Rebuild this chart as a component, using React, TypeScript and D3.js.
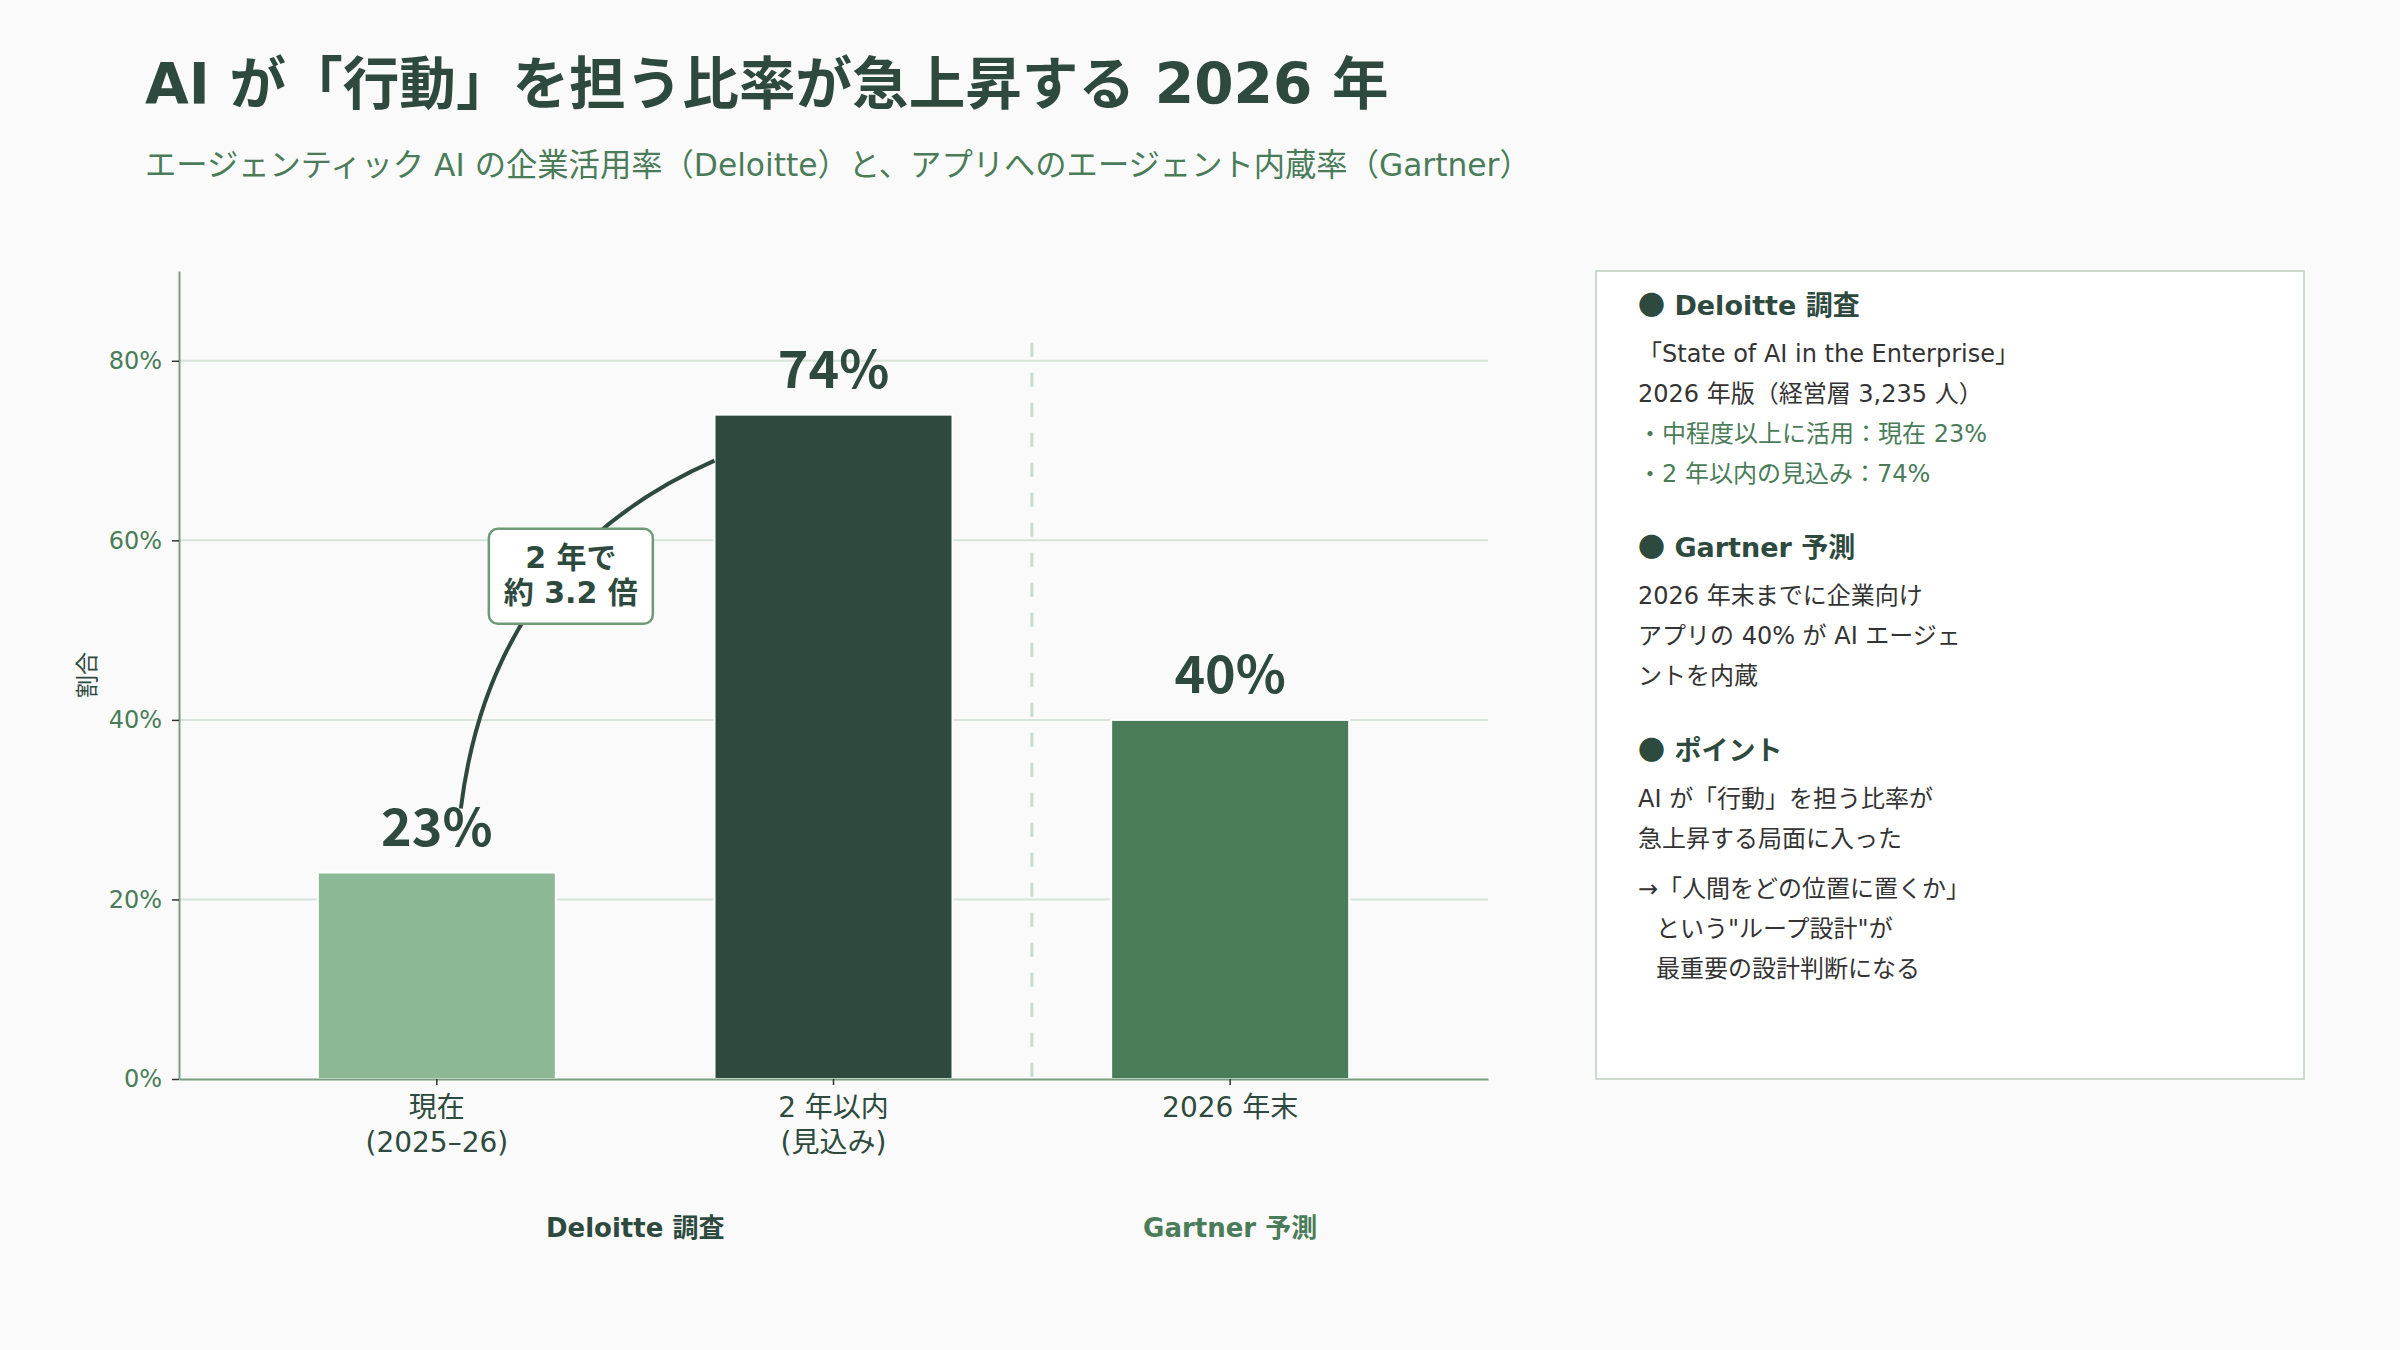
import React, { useEffect, useRef } from 'react';
import * as d3 from 'd3';

// chart data
const categories = ['現在', '2 年以内', '2026 年末'];
const categorySub = ['(2025–26)', '(見込み)', ''];
const values = [23, 74, 40];
const barColors = ['#8cb896', '#2e4a3e', '#4a7c59'];
const yTicks = [0, 20, 40, 60, 80];
const groupLabels = ['Deloitte 調査', 'Gartner 予測'];
const groupMembers = [[0, 1], [2]];
const groupColors = ['#2e4a3e', '#4a7c59'];
const growthLabel = ['2 年で', '約 3.2 倍'];

// side panel text
const panelHeadings = ['Deloitte 調査', 'Gartner 予測', 'ポイント'];
const deloitteLines = ['「State of AI in the Enterprise」', '2026 年版（経営層 3,235 人）'];
const deloitteBullets = ['・中程度以上に活用：現在 23%', '・2 年以内の見込み：74%'];
const gartnerLines = ['2026 年末までに企業向け', 'アプリの 40% が AI エージェ', 'ントを内蔵'];
const pointLines = ['AI が「行動」を担う比率が', '急上昇する局面に入った'];
const pointArrowLines = ['→「人間をどの位置に置くか」', 'という"ループ設計"が', '最重要の設計判断になる'];

const FONT = "'DejaVu Sans', 'Noto Sans CJK JP', sans-serif";
const NUM_FONT = "'Noto Sans CJK JP', 'Noto Sans', sans-serif";
const DARK = '#2e4a3e';
const GREEN = '#4a7c59';
const BODY = '#333333';

function App() {
  const ref = useRef(null);

  useEffect(() => {
    const element = ref.current;
    if (!element) return;
    element.innerHTML = '';

    const width = 2400;
    const height = 1350;

    const svg = d3
      .select(element)
      .append('svg')
      .attr('width', width)
      .attr('height', height)
      .style('display', 'block')
      .style('font-family', FONT);

    svg.append('rect').attr('width', width).attr('height', height).attr('fill', '#fafafa');

    // title + subtitle
    svg
      .append('text')
      .attr('x', 145)
      .attr('y', 104)
      .attr('fill', DARK)
      .style('font-size', '56.6px')
      .style('font-weight', 700)
      .text('AI が「行動」を担う比率が急上昇する 2026 年');

    svg
      .append('text')
      .attr('x', 145)
      .attr('y', 176)
      .attr('fill', GREEN)
      .style('font-size', '31.3px')
      .text('エージェンティック AI の企業活用率（Deloitte）と、アプリへのエージェント内蔵率（Gartner）');

    const x = d3
      .scaleBand()
      .domain(categories)
      .range([179, 1488])
      .paddingInner(0.4)
      .paddingOuter(0.35);

    const y = d3.scaleLinear().domain([0, 90]).range([1079, 271]);

    // gridlines
    svg
      .append('g')
      .selectAll('line')
      .data(yTicks.filter((t) => t > 0))
      .join('line')
      .attr('x1', x.range()[0])
      .attr('x2', x.range()[1])
      .attr('y1', (d) => y(d))
      .attr('y2', (d) => y(d))
      .attr('stroke', '#d6e4d9')
      .attr('stroke-width', 2);

    // dashed separator between Deloitte and Gartner
    const sepX = x(categories[2]) - (x.step() * x.paddingInner()) / 2;
    svg
      .append('line')
      .attr('x1', sepX)
      .attr('x2', sepX)
      .attr('y1', y(82))
      .attr('y2', y(0))
      .attr('stroke', '#c9dccd')
      .attr('stroke-width', 3)
      .attr('stroke-dasharray', '14,16');

    // bars
    svg
      .append('g')
      .selectAll('rect')
      .data(values)
      .join('rect')
      .attr('x', (d, i) => x(categories[i]))
      .attr('y', (d) => y(d))
      .attr('width', x.bandwidth())
      .attr('height', (d) => y(0) - y(d))
      .attr('fill', (d, i) => barColors[i])
      .attr('stroke', '#ffffff')
      .attr('stroke-width', 2);

    // value labels
    svg
      .append('g')
      .selectAll('text')
      .data(values)
      .join('text')
      .attr('x', (d, i) => x(categories[i]) + x.bandwidth() / 2)
      .attr('y', (d) => y(d) - 27)
      .attr('text-anchor', 'middle')
      .attr('fill', DARK)
      .style('font-family', NUM_FONT)
      .style('font-size', '52px')
      .style('font-weight', 700)
      .text((d) => `${d}%`);

    // y axis
    const yAxis = svg
      .append('g')
      .attr('transform', `translate(${x.range()[0]},0)`)
      .call(
        d3
          .axisLeft(y)
          .tickValues(yTicks)
          .tickFormat((d) => `${d}%`)
          .tickSize(7)
          .tickPadding(10)
          .tickSizeOuter(0)
      );
    yAxis.select('.domain').attr('stroke', '#7a9e82').attr('stroke-width', 2);
    yAxis.selectAll('.tick line').attr('stroke', '#333').attr('stroke-width', 1.5);
    yAxis
      .selectAll('.tick text')
      .attr('fill', GREEN)
      .style('font-size', '24px')
      .style('font-family', FONT);

    svg
      .append('text')
      .attr('transform', `translate(87,${(y(0) + y(90)) / 2}) rotate(-90)`)
      .attr('text-anchor', 'middle')
      .attr('dominant-baseline', 'central')
      .attr('fill', DARK)
      .style('font-size', '23px')
      .text('割合');

    // x axis
    const xAxis = svg
      .append('g')
      .attr('transform', `translate(0,${y(0)})`)
      .call(d3.axisBottom(x).tickSize(6).tickSizeOuter(0).tickFormat(() => ''));
    xAxis.select('.domain').attr('stroke', '#7a9e82').attr('stroke-width', 2);
    xAxis.selectAll('.tick line').attr('stroke', '#333').attr('stroke-width', 1.5);

    const xLabels = svg
      .append('g')
      .selectAll('text')
      .data(categories)
      .join('text')
      .attr('x', (d) => x(d) + x.bandwidth() / 2)
      .attr('y', y(0) + 38)
      .attr('text-anchor', 'middle')
      .attr('fill', DARK)
      .style('font-size', '28px');
    xLabels.append('tspan').text((d) => d);
    xLabels
      .append('tspan')
      .attr('x', (d) => x(d) + x.bandwidth() / 2)
      .attr('dy', 35)
      .text((d, i) => categorySub[i]);

    // group labels
    svg
      .append('g')
      .selectAll('text')
      .data(groupLabels)
      .join('text')
      .attr('x', (d, i) => d3.mean(groupMembers[i], (k) => x(categories[k]) + x.bandwidth() / 2))
      .attr('y', y(0) + 158)
      .attr('text-anchor', 'middle')
      .attr('fill', (d, i) => groupColors[i])
      .style('font-size', '26px')
      .style('font-weight', 700)
      .text((d) => d);

    // growth arrow curve: from 23% label to the 74% bar
    const c1 = x(categories[0]) + x.bandwidth() / 2;
    const start = [c1 + 24, y(values[0]) - 64];
    const end = [x(categories[1]), y(values[1]) + 46];
    const ctrl = [c1 + 55, y(58)];
    const p = d3.path();
    p.moveTo(start[0], start[1]);
    p.quadraticCurveTo(ctrl[0], ctrl[1], end[0], end[1]);
    svg
      .append('path')
      .attr('d', p.toString())
      .attr('fill', 'none')
      .attr('stroke', DARK)
      .attr('stroke-width', 4);

    const boxCx = c1 + 134;
    const boxCy = y(56);
    const boxW = 164;
    const boxH = 95;
    svg
      .append('rect')
      .attr('x', boxCx - boxW / 2)
      .attr('y', boxCy - boxH / 2)
      .attr('width', boxW)
      .attr('height', boxH)
      .attr('rx', 9)
      .attr('fill', '#ffffff')
      .attr('stroke', '#6f9a78')
      .attr('stroke-width', 2.5);
    svg
      .append('g')
      .selectAll('text')
      .data(growthLabel)
      .join('text')
      .attr('x', boxCx)
      .attr('y', (d, i) => boxCy - 8 + i * 35)
      .attr('text-anchor', 'middle')
      .attr('fill', DARK)
      .style('font-size', '30px')
      .style('font-weight', 700)
      .text((d) => d);

    // side panel
    svg
      .append('rect')
      .attr('x', 1596)
      .attr('y', 271)
      .attr('width', 708)
      .attr('height', 808)
      .attr('fill', '#ffffff')
      .attr('stroke', '#c9dccd')
      .attr('stroke-width', 2);

    const px = 1638;
    const panel = svg.append('g').style('font-size', '24px');
    const heading = (txt, yy) => {
      const t = panel
        .append('text')
        .attr('x', px)
        .attr('y', yy)
        .attr('fill', DARK)
        .style('font-size', '27px')
        .style('font-weight', 700);
      t.append('tspan').style('font-family', NUM_FONT).text('●');
      t.append('tspan').text(` ${txt}`);
    };
    const line = (txt, yy, color = BODY, dx = 0) =>
      panel.append('text').attr('x', px + dx).attr('y', yy).attr('fill', color).text(txt);

    let cy = 315;
    heading(panelHeadings[0], cy);
    cy += 47;
    deloitteLines.forEach((t) => { line(t, cy); cy += 40; });
    deloitteBullets.forEach((t) => { line(t, cy, GREEN); cy += 40; });
    cy += 35;
    heading(panelHeadings[1], cy);
    cy += 47;
    gartnerLines.forEach((t) => { line(t, cy); cy += 40; });
    cy += 36;
    heading(panelHeadings[2], cy);
    cy += 47;
    pointLines.forEach((t) => { line(t, cy); cy += 40; });
    cy += 10;
    pointArrowLines.forEach((t, i) => { line(t, cy, BODY, i === 0 ? 0 : 18); cy += 40; });
  }, []);

  return <div ref={ref} style={{ position: 'absolute', left: 0, top: 0, width: 2400, height: 1350 }} />;
}

export default App;
